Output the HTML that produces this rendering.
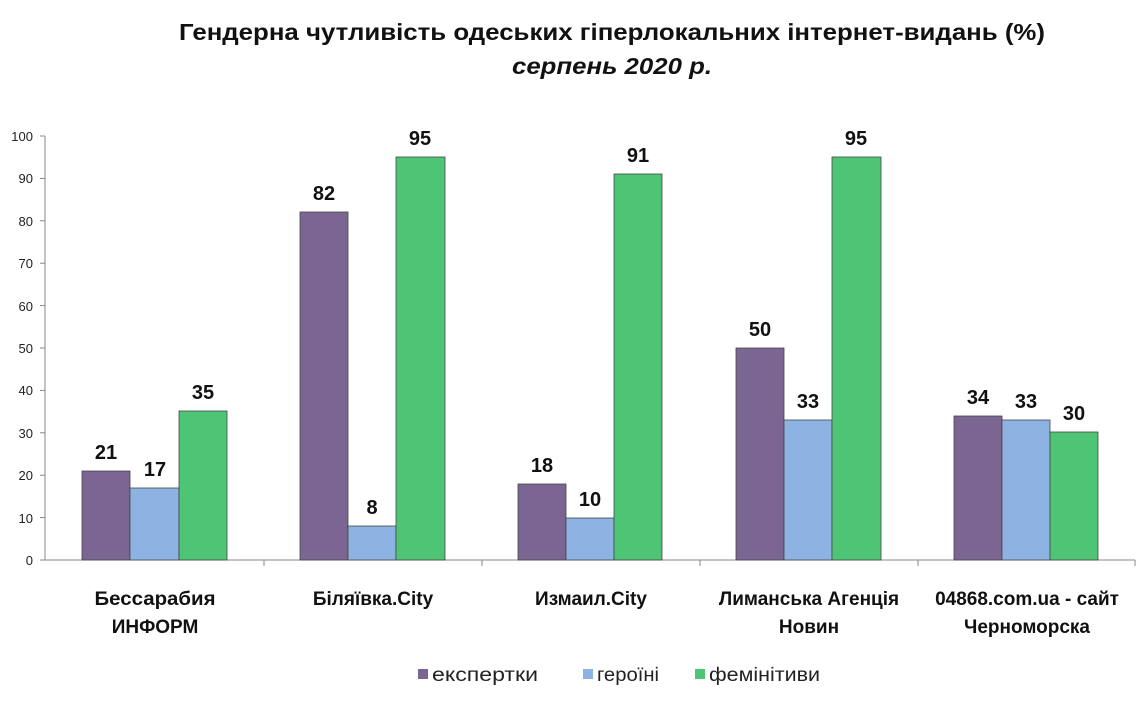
<!DOCTYPE html>
<html><head><meta charset="utf-8"><style>
body{margin:0;background:#fff;}
svg{display:block;font-family:"Liberation Sans","DejaVu Sans",sans-serif;}
</style></head><body>
<svg width="1143" height="705" viewBox="0 0 1143 705">
<rect width="1143" height="705" fill="#fff"/>
<text x="612" y="40" text-anchor="middle" font-size="23" font-weight="bold" fill="#111" textLength="866" lengthAdjust="spacingAndGlyphs">Гендерна чутливість одеських гіперлокальних інтернет-видань (%)</text>
<text x="612" y="74" text-anchor="middle" font-size="23" font-weight="bold" font-style="italic" fill="#111" textLength="200" lengthAdjust="spacingAndGlyphs">серпень 2020 р.</text>
<g stroke="#888" stroke-width="1">
<line x1="45" y1="136" x2="45" y2="560"/>
<line x1="45" y1="560" x2="1135" y2="560"/>
<line x1="40" y1="136" x2="45" y2="136"/><line x1="40" y1="178.4" x2="45" y2="178.4"/><line x1="40" y1="220.8" x2="45" y2="220.8"/><line x1="40" y1="263.2" x2="45" y2="263.2"/><line x1="40" y1="305.6" x2="45" y2="305.6"/><line x1="40" y1="348" x2="45" y2="348"/><line x1="40" y1="390.4" x2="45" y2="390.4"/><line x1="40" y1="432.8" x2="45" y2="432.8"/><line x1="40" y1="475.2" x2="45" y2="475.2"/><line x1="40" y1="517.6" x2="45" y2="517.6"/><line x1="40" y1="560" x2="45" y2="560"/>
<line x1="264" y1="560" x2="264" y2="566"/><line x1="482" y1="560" x2="482" y2="566"/><line x1="700" y1="560" x2="700" y2="566"/><line x1="918" y1="560" x2="918" y2="566"/><line x1="1135" y1="560" x2="1135" y2="566"/>
</g>
<g font-size="13" fill="#222" text-anchor="end">
<text x="33" y="141">100</text><text x="33" y="183">90</text><text x="33" y="226">80</text><text x="33" y="268">70</text><text x="33" y="311">60</text><text x="33" y="353">50</text><text x="33" y="395">40</text><text x="33" y="438">30</text><text x="33" y="480">20</text><text x="33" y="523">10</text><text x="33" y="565">0</text>
</g>
<g stroke="#444" stroke-width="0.8">
<rect x="82" y="471" width="48" height="89" fill="#7b6593"/>
<rect x="130" y="488" width="49" height="72" fill="#8db3e2"/>
<rect x="179" y="411" width="48" height="149" fill="#4dc575"/>
<rect x="300" y="212" width="48" height="348" fill="#7b6593"/>
<rect x="348" y="526" width="48" height="34" fill="#8db3e2"/>
<rect x="396" y="157" width="49" height="403" fill="#4dc575"/>
<rect x="518" y="484" width="48" height="76" fill="#7b6593"/>
<rect x="566" y="518" width="48" height="42" fill="#8db3e2"/>
<rect x="614" y="174" width="48" height="386" fill="#4dc575"/>
<rect x="736" y="348" width="48" height="212" fill="#7b6593"/>
<rect x="784" y="420" width="48" height="140" fill="#8db3e2"/>
<rect x="832" y="157" width="49" height="403" fill="#4dc575"/>
<rect x="954" y="416" width="48" height="144" fill="#7b6593"/>
<rect x="1002" y="420" width="48" height="140" fill="#8db3e2"/>
<rect x="1050" y="432" width="48" height="128" fill="#4dc575"/>
</g>
<g font-size="20" font-weight="bold" fill="#111" text-anchor="middle">
<text x="106" y="459">21</text><text x="155" y="476">17</text><text x="203" y="399">35</text>
<text x="324" y="200">82</text><text x="372" y="514">8</text><text x="420" y="145">95</text>
<text x="542" y="472">18</text><text x="590" y="506">10</text><text x="638" y="162">91</text>
<text x="760" y="336">50</text><text x="808" y="408">33</text><text x="856" y="145">95</text>
<text x="978" y="404">34</text><text x="1026" y="408">33</text><text x="1074" y="420">30</text>
</g>
<g font-size="19" font-weight="bold" fill="#111" text-anchor="middle">
<text x="155" y="605" textLength="121" lengthAdjust="spacingAndGlyphs">Бессарабия</text><text x="155" y="633">ИНФОРМ</text>
<text x="373" y="605">Біляївка.City</text>
<text x="591" y="605">Измаил.City</text>
<text x="809" y="605">Лиманська Агенція</text><text x="809" y="633">Новин</text>
<text x="1027" y="605">04868.com.ua - сайт</text><text x="1027" y="633">Черноморска</text>
</g>
<g font-size="19" fill="#222">
<rect x="418" y="669" width="10" height="10" fill="#7b6593"/><text x="432" y="681" textLength="106" lengthAdjust="spacingAndGlyphs">експертки</text>
<rect x="583" y="669" width="10" height="10" fill="#8db3e2"/><text x="597" y="681" textLength="62" lengthAdjust="spacingAndGlyphs">героїні</text>
<rect x="695" y="669" width="10" height="10" fill="#4dc575"/><text x="709" y="681" textLength="111" lengthAdjust="spacingAndGlyphs">фемінітиви</text>
</g>
</svg>
</body></html>
